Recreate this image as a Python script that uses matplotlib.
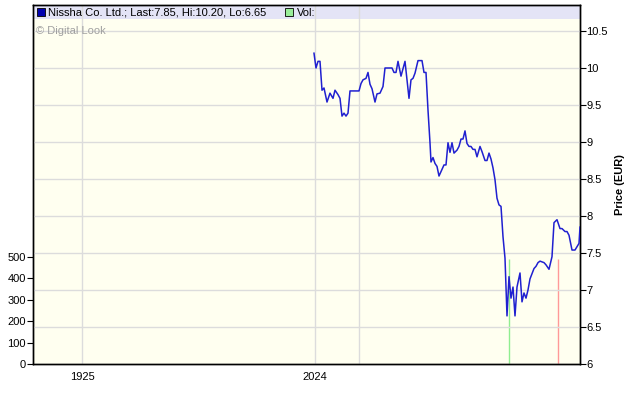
import matplotlib
matplotlib.use('Agg')
import matplotlib.pyplot as plt
from matplotlib.patches import Rectangle

# trading day offsets and closing prices (EUR)
days = [0, 2, 4, 6, 8, 10, 13, 16, 19, 21, 24, 26, 28, 30, 32, 34, 36, 45, 47, 49,
        52, 54, 56, 58, 61, 63, 66, 69, 71, 78, 80, 82, 84, 87, 91, 95, 97, 99, 101, 104,
        108, 110, 112, 114, 116, 117, 119, 121, 123, 125, 127, 130, 132, 134, 136, 138, 140, 143, 145, 147,
        149, 151, 153, 155, 157, 159, 161, 163, 166, 168, 171, 173, 175, 177, 179, 181, 183, 185, 187, 189,
        191, 193, 195, 197, 199, 201, 203, 206, 208, 210, 212, 214, 216, 218, 220, 222, 224, 226, 230, 232,
        235, 238, 240, 243, 246, 248, 251, 253, 255, 258, 261, 265, 266]
prices = [10.20, 10.00, 10.09, 10.09, 9.70, 9.73, 9.54, 9.66, 9.59, 9.70, 9.64, 9.59, 9.35, 9.39, 9.35, 9.39, 9.69, 9.69, 9.79, 9.84,
          9.86, 9.94, 9.78, 9.72, 9.54, 9.65, 9.66, 9.75, 10.00, 10.00, 9.94, 9.94, 10.09, 9.89, 10.09, 9.59, 9.84, 9.86, 9.93, 10.10,
          10.10, 9.94, 9.94, 9.43, 8.99, 8.73, 8.79, 8.71, 8.67, 8.54, 8.60, 8.69, 8.69, 8.99, 8.86, 8.99, 8.85, 8.89, 8.94, 9.04,
          9.04, 9.15, 8.98, 8.94, 8.94, 8.90, 8.90, 8.80, 8.94, 8.87, 8.75, 8.75, 8.85, 8.77, 8.65, 8.49, 8.24, 8.15, 8.13, 7.72,
          7.43, 6.65, 7.18, 6.89, 7.04, 6.65, 7.04, 7.23, 6.84, 6.96, 6.89, 7.00, 7.15, 7.22, 7.29, 7.32, 7.37, 7.39, 7.37, 7.34,
          7.28, 7.45, 7.91, 7.95, 7.83, 7.83, 7.79, 7.79, 7.74, 7.54, 7.54, 7.63, 7.85]

vol_days = [195, 244]
vol_values = [490, 490]
vol_colors = ['#90ee90', '#ff9999']

xtick_pos = [-232, 1]
xtick_labels = ['1925', '2024']

font = 'Liberation Sans'
plt.rcParams['font.family'] = font

fig = plt.figure(figsize=(6.4, 4.01), dpi=100)
ax = fig.add_axes([33/640, 37/401, 547/640, 359/401])
ax.set_facecolor('#fffff0')

# header band
ax.add_patch(Rectangle((0, 345/359), 1, 14/359, transform=ax.transAxes,
                       facecolor='#e4e4f6', edgecolor='none', zorder=0))

ax.set_xlim(-281, 266)
ax.set_ylim(0, 1678)
ax.set_yticks([0, 100, 200, 300, 400, 500])
ax.tick_params(axis='y', labelsize=8, length=4, direction='out', pad=1)
ax.set_xticks(xtick_pos)
ax.set_xticklabels(xtick_labels)
ax.set_xticks([45], minor=True)
ax.tick_params(axis='x', which='both', length=0, labelsize=8, pad=6)
ax.grid(True, axis='x', which='both', color='#dcdcdc', lw=1)
ax.set_axisbelow(True)

ax.vlines(vol_days, 0, vol_values, colors=vol_colors, lw=1, zorder=2)

ax2 = ax.twinx()
ax2.set_ylim(6, 6 + 359/74)
ax2.set_yticks([6, 6.5, 7, 7.5, 8, 8.5, 9, 9.5, 10, 10.5])
ax2.set_yticklabels(['6', '6.5', '7', '7.5', '8', '8.5', '9', '9.5', '10', '10.5'])
ax2.tick_params(axis='y', labelsize=8, length=4, direction='out', pad=0.5)
ax2.grid(True, axis='y', color='#dcdcdc', lw=1, zorder=0)
ax2.set_axisbelow(True)
ax2.plot(days, prices, color='#2020d0', lw=1.1, zorder=3)
ax2.set_ylabel('Price (EUR)', fontsize=8, fontweight='bold', labelpad=5)

for a in (ax, ax2):
    for s in a.spines.values():
        s.set_color('black')
        s.set_linewidth(1)

# header texts
fig.add_artist(Rectangle((37/640, 1 - 16/401), 8/640, 8/401, transform=fig.transFigure,
                         facecolor='#0000b0', edgecolor='black', lw=0.6))
fig.text(48/640, 1 - 12.5/401, 'Nissha Co. Ltd.; Last:7.85, Hi:10.20, Lo:6.65',
         fontsize=8, va='center', ha='left')
fig.add_artist(Rectangle((285/640, 1 - 16/401), 8/640, 8/401, transform=fig.transFigure,
                         facecolor='#99ee99', edgecolor='black', lw=0.6))
fig.text(297/640, 1 - 12.5/401, 'Vol:', fontsize=8, va='center', ha='left')
fig.text(36/640, 1 - 31/401, '\u00a9 Digital Look', fontsize=8, color='#a0a0a0',
         va='center', ha='left')

fig.savefig('out.png', dpi=100)
